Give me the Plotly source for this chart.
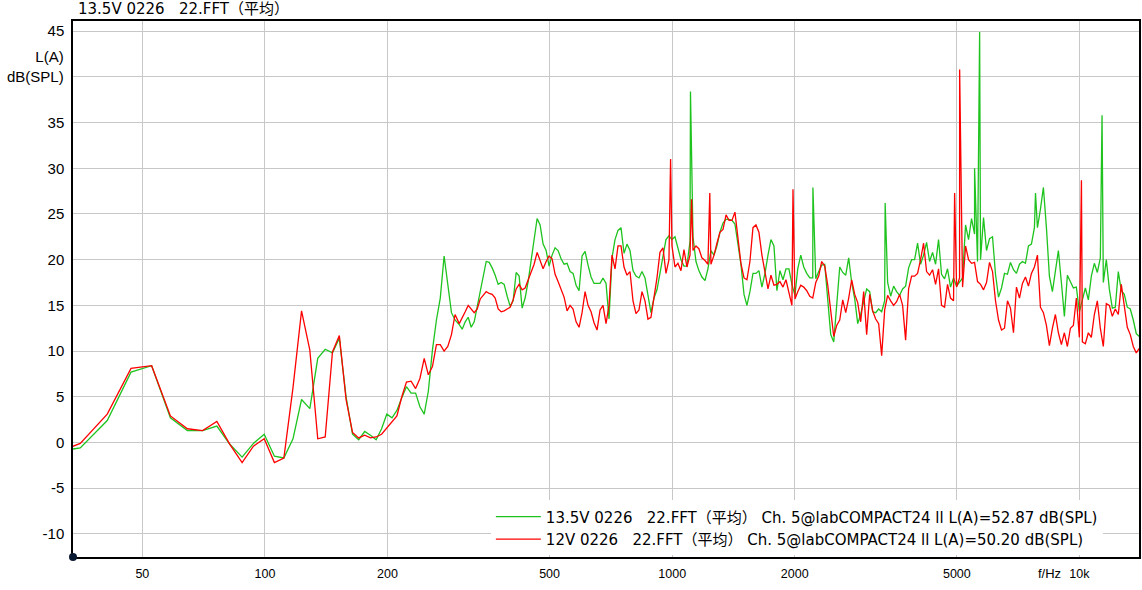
import plotly.graph_objects as go

FONT = "Liberation Sans, Arial, Noto Sans CJK SC"
WIDE_FONT = "DejaVu Sans, Noto Sans CJK SC"
GREEN = "#1ec31e"
RED = "#ff0000"
NB = "\u00a0"

TITLE = "13.5V 0226" + NB * 3 + "22.FFT（平均）"
NAMES = [
    "13.5V 0226" + NB * 3 + "22.FFT（平均）" + NB + "Ch. 5@labCOMPACT24 ll L(A)=52.87 dB(SPL)",
    "12V 0226" + NB * 3 + "22.FFT（平均）" + NB + "Ch. 5@labCOMPACT24 ll L(A)=50.20 dB(SPL)",
]

# FFT bins below 300 Hz (read point by point)
LOW_HZ = [29.3, 35.2, 41.0, 46.9, 52.7, 58.6, 64.5, 70.3, 76.2, 82.0,
          87.9, 93.7, 99.6, 105.5, 111.3, 117.2, 123.0, 128.9, 134.8, 140.6,
          146.5, 152.3, 158.2, 164.1, 169.9, 175.8, 181.6, 187.5, 193.4, 199.2,
          205.1, 210.9, 216.8, 222.6, 228.5, 234.4, 240.2, 246.1, 251.9, 257.8,
          263.7, 269.5, 275.4, 281.2, 287.1, 293.0]
GREEN_LOW = [-1.1, -0.6, 2.4, 7.7, 8.4, 2.7, 1.3, 1.3, 1.8, -0.2,
             -1.6, -0.1, 0.9, -1.5, -1.7, 0.4, 4.7, 3.7, 9.2, 10.2,
             9.8, 11.4, 5.0, 0.9, 0.3, 1.2, 0.8, 0.3, 1.5, 3.1,
             2.7, 3.5, 4.9, 6.1, 5.4, 5.4, 3.9, 3.1, 5.6, 10.1,
             13.4, 15.8, 20.4, 17.0, 14.2, 13.4]
RED_LOW = [-1.5, -0.1, 3.1, 8.1, 8.4, 2.9, 1.5, 1.3, 2.3, -0.2,
           -2.2, -0.4, 0.4, -2.2, -1.7, 6.0, 14.4, 10.1, 0.4, 0.6,
           9.9, 11.7, 4.7, 1.1, 0.5, 0.8, 0.5, 0.6, 0.9, 1.6,
           2.3, 2.9, 5.0, 6.6, 6.7, 5.9, 7.0, 9.2, 7.4, 8.3,
           10.7, 10.7, 10.0, 10.5, 11.8, 14.0]

# sampled spectrum above 300 Hz
HI_HZ = [300.0, 305.1, 310.3, 315.6, 321.0, 326.5, 332.1, 337.8, 343.5, 349.4,
         355.4, 361.4, 367.6, 373.9, 380.3, 386.8, 393.4, 400.1, 406.9, 413.9,
         420.9, 428.1, 435.4, 442.9, 450.4, 458.1, 466.0, 473.9, 482.0, 490.3,
         498.6, 507.1, 515.8, 524.6, 533.6, 542.7, 552.0, 561.4, 571.0, 580.8,
         590.7, 600.8, 611.1, 621.5, 632.1, 642.9, 653.9, 665.1, 676.4, 688.0,
         699.7, 711.7, 723.8, 736.2, 748.8, 761.6, 774.6, 787.8, 801.3, 815.0,
         828.9, 843.1, 857.5, 872.1, 887.0, 902.2, 917.6, 933.3, 949.3, 965.5,
         982.0, 998.8, 1016, 1033, 1051, 1069, 1087, 1106, 1125, 1144,
         1163, 1183, 1204, 1224, 1245, 1267, 1288, 1310, 1333, 1356,
         1379, 1402, 1426, 1451, 1475, 1501, 1526, 1552, 1579, 1606,
         1633, 1661, 1690, 1719, 1748, 1778, 1808, 1839, 1871, 1903,
         1935, 1968, 2002, 2034, 2069, 2104, 2140, 2177, 2214, 2252,
         2290, 2329, 2369, 2410, 2451, 2493, 2535, 2579, 2623, 2668,
         2713, 2759, 2807, 2855, 2903, 2953, 3003, 3055, 3107, 3160,
         3214, 3269, 3325, 3381, 3439, 3498, 3557, 3618, 3680, 3743,
         3807, 3872, 3938, 4005, 4074, 4143, 4214, 4286, 4359, 4434,
         4509, 4586, 4665, 4744, 4825, 4908, 4993, 5078, 5165, 5253,
         5343, 5434, 5527, 5621, 5717, 5815, 5914, 6015, 6118, 6222,
         6329, 6437, 6547, 6658, 6772, 6888, 7005, 7125, 7246, 7370,
         7496, 7624, 7754, 7887, 8021, 8158, 8298, 8439, 8584, 8730,
         8879, 9031, 9185, 9342, 9502, 9664, 9829, 9997, 10168, 10341,
         10518, 10698, 10880, 11066, 11255, 11447, 11643, 11842, 12044, 12250,
         12459, 12672, 12888, 13108, 13332, 13560, 13792, 14027]
GREEN_HI = [12.9, 12.4, 13.2, 13.7, 12.6, 13.2, 14.9, 16.5, 18.2, 19.8,
            19.7, 19.1, 18.3, 17.3, 17.5, 17.3, 16.0, 14.9, 15.5, 18.6,
            18.2, 14.7, 15.8, 17.6, 19.9, 22.0, 24.5, 23.8, 21.7, 21.0,
            19.3, 20.5, 21.3, 21.0, 20.1, 19.5, 19.6, 18.7, 18.5, 17.2,
            16.6, 20.4, 20.9, 19.4, 18.1, 17.4, 17.4, 17.4, 18.0, 17.4,
            13.5, 20.2, 22.2, 23.2, 23.5, 20.7, 21.7, 21.0, 18.8, 18.2,
            18.0, 18.7, 18.0, 16.0, 14.2, 15.8, 16.7, 18.5, 20.4, 22.2,
            22.6, 22.2, 22.5, 21.1, 20.0, 19.3, 19.3, 22.0, 22.5, 19.8,
            18.8, 18.1, 17.7, 19.0, 21.0, 20.5, 21.5, 23.0, 24.0, 24.4,
            24.4, 24.3, 23.9, 21.6, 19.5, 16.2, 15.0, 16.5, 18.5, 18.5,
            18.8, 17.0, 18.5, 20.5, 22.2, 21.5, 16.6, 18.8, 17.8, 19.0,
            19.0, 17.3, 16.1, 19.0, 20.5, 19.2, 18.5, 18.0, 18.0, 17.9,
            18.7, 19.4, 19.5, 15.5, 11.8, 11.0, 14.8, 19.2, 18.6, 18.3,
            20.2, 17.5, 15.7, 13.0, 14.0, 15.6, 16.8, 16.5, 14.3, 14.2,
            14.6, 14.3, 15.5, 17.5, 16.0, 17.1, 16.5, 16.1, 16.8, 17.1,
            19.1, 20.0, 20.0, 21.8, 19.5, 20.5, 21.9, 19.8, 20.8, 19.5,
            22.2, 18.4, 17.9, 19.0, 17.0, 18.0, 17.1, 17.5, 18.0, 23.8,
            22.2, 24.5, 22.8, 19.8, 20.0, 24.6, 21.0, 22.3, 22.5, 18.4,
            15.9, 16.9, 18.5, 18.4, 19.7, 18.9, 18.5, 19.5, 19.8, 19.6,
            21.5, 21.7, 23.5, 23.5, 25.5, 27.9, 23.5, 18.2, 16.5, 18.8,
            21.0, 17.5, 13.8, 18.3, 17.5, 16.9, 17.0, 14.3, 15.6, 16.9,
            15.6, 18.2, 19.6, 18.6, 20.2, 17.5, 20.0, 16.8, 14.7, 14.8,
            18.7, 16.6, 16.2, 14.8, 14.6, 13.4, 11.9, 11.6]
RED_HI = [13.0, 13.6, 14.3, 15.0, 14.6, 14.2, 14.6, 15.7, 16.1, 16.5,
          16.3, 16.2, 15.8, 14.6, 14.3, 14.4, 14.6, 14.8, 15.6, 16.8,
          17.3, 16.7, 16.9, 17.8, 18.5, 19.5, 20.8, 20.0, 19.0, 19.8,
          20.4, 20.1, 18.4, 17.6, 16.8, 15.9, 14.4, 15.0, 14.6, 13.2,
          12.6, 14.2, 16.5, 15.0, 14.3, 13.1, 12.3, 14.5, 15.0, 13.0,
          15.0, 20.5, 19.0, 21.5, 21.5, 19.2, 18.3, 18.7, 15.5, 14.1,
          14.5, 16.5, 15.5, 13.5, 13.7, 15.8, 18.0, 20.8, 21.3, 18.5,
          20.0, 21.5, 19.2, 19.6, 18.8, 21.1, 19.2, 20.5, 21.0, 21.5,
          21.2, 20.2, 19.9, 19.5, 19.5, 20.5, 21.8, 23.0, 23.3, 24.9,
          24.3, 24.3, 25.2, 22.5, 19.6, 18.0, 17.8, 19.8, 23.5, 23.8,
          23.0, 20.5, 18.5, 16.8, 18.3, 17.2, 17.3, 17.6, 17.0, 17.8,
          16.4, 15.0, 15.7, 16.5, 17.2, 17.0, 16.6, 16.0, 15.8, 17.5,
          18.2, 19.8, 19.3, 17.2, 14.5, 11.6, 12.8, 13.4, 15.6, 14.2,
          15.8, 17.8, 16.2, 15.3, 13.2, 16.5, 11.8, 16.2, 14.4, 13.5,
          13.0, 9.5, 14.5, 16.1, 15.5, 15.0, 15.4, 16.2, 15.0, 11.2,
          16.8, 18.2, 18.2, 18.5, 20.0, 21.8, 18.7, 18.3, 18.9, 17.3,
          19.0, 15.0, 14.8, 17.3, 15.8, 15.5, 17.0, 18.0, 17.0, 21.5,
          20.0, 19.6, 19.7, 17.6, 17.3, 16.7, 17.5, 19.7, 18.7, 15.5,
          13.4, 12.3, 12.5, 15.5, 14.7, 12.0, 17.0, 15.8, 17.4, 18.1,
          17.1, 18.5, 19.2, 20.5, 14.8, 14.2, 12.8, 10.6, 12.5, 14.0,
          12.0, 10.7, 12.0, 10.5, 12.5, 12.8, 15.8, 11.5, 11.0, 10.8,
          12.0, 11.5, 14.0, 15.5, 12.5, 10.5, 15.2, 15.0, 13.8, 14.6,
          14.0, 17.3, 14.8, 12.6, 11.8, 10.5, 9.8, 10.3]

# narrow tonal peaks
GREEN_PEAK_HZ = [1109, 2216, 3334, 5528, 5688, 7801, 11364]
GREEN_PEAK_DB = [38.4, 27.9, 26.2, 30.0, 44.9, 27.3, 35.8]
RED_PEAK_HZ = [991, 1116, 1237, 1980, 4938, 5080, 10114]
RED_PEAK_DB = [31.0, 26.6, 27.3, 27.7, 27.3, 40.8, 28.7]

X_TICKS = [50, 100, 200, 500, 1000, 2000, 5000, 10000]
X_LABELS = ["50", "100", "200", "500", "1000", "2000", "5000", "10k"]
Y_TICKS = [-10, -5, 0, 5, 10, 15, 20, 25, 30, 35, 40, 45]
# the 40 label is left blank: the axis title sits there
Y_LABELS = ["-10", "-5", "0", "5", "10", "15", "20", "25", "30", "35", "", "45"]


def merged(db_low, db_hi, peak_hz, peak_db):
    pts = list(zip(LOW_HZ + HI_HZ, db_low + db_hi)) + list(zip(peak_hz, peak_db))
    pts.sort()
    return [p[0] for p in pts], [p[1] for p in pts]


fig = go.Figure()
for name, color, low, hi, phz, pdb in [
    (NAMES[0], GREEN, GREEN_LOW, GREEN_HI, GREEN_PEAK_HZ, GREEN_PEAK_DB),
    (NAMES[1], RED, RED_LOW, RED_HI, RED_PEAK_HZ, RED_PEAK_DB),
]:
    xs, ys = merged(low, hi, phz, pdb)
    fig.add_trace(go.Scatter(x=xs, y=ys, mode="lines", name=name,
                             line=dict(color=color, width=1.3)))

fig.update_layout(
    width=1142, height=590,
    margin=dict(l=73, r=1, t=21, b=33),
    paper_bgcolor="white", plot_bgcolor="white",
    font=dict(family=FONT, size=13, color="#000"),
    legend=dict(x=0.392, y=0.003, xanchor="left", yanchor="bottom",
                bgcolor="white", borderwidth=0, itemwidth=45,
                font=dict(family=WIDE_FONT, size=15, color="#000"),
                tracegroupgap=0),
    annotations=[
        dict(text=TITLE, xref="paper", yref="paper", x=0.0028, y=1.022,
             xanchor="left", yanchor="middle", showarrow=False,
             font=dict(family=WIDE_FONT, size=15)),
        dict(text="L(A)<br>dB(SPL)", xref="paper", yref="paper", x=-0.0066, y=0.916,
             xanchor="right", yanchor="middle", align="right", showarrow=False,
             font=dict(size=15)),
        dict(text="f/Hz", xref="paper", yref="paper", x=0.9157, y=-0.03,
             xanchor="center", yanchor="middle", showarrow=False,
             font=dict(size=13)),
    ],
    shapes=[dict(type="circle", xref="paper", yref="paper",
                 xsizemode="pixel", ysizemode="pixel", xanchor=0, yanchor=0,
                 x0=-4, x1=4, y0=-4, y1=4,
                 fillcolor="#0b1a33", line=dict(color="#0b1a33", width=0))],
)

fig.update_xaxes(
    type="log", range=[1.5287, 4.1463],
    tickmode="array", tickvals=X_TICKS, ticktext=X_LABELS,
    showgrid=True, gridcolor="#c8c8c8", gridwidth=1,
    showline=True, linecolor="black", linewidth=1.5, mirror=True,
    ticks="", zeroline=False, ticklabelstandoff=4,
    tickfont=dict(size=12.5),
)
fig.update_yaxes(
    range=[-12.53, 46.11],
    tickmode="array", tickvals=Y_TICKS, ticktext=Y_LABELS,
    showgrid=True, gridcolor="#c8c8c8", gridwidth=1,
    showline=True, linecolor="black", linewidth=1.5, mirror=True,
    ticks="", zeroline=False, ticklabelstandoff=4,
    tickfont=dict(size=15),
)

fig.write_html("out.html", config={"displayModeBar": False},
               post_script="document.body.style.margin='0';")
